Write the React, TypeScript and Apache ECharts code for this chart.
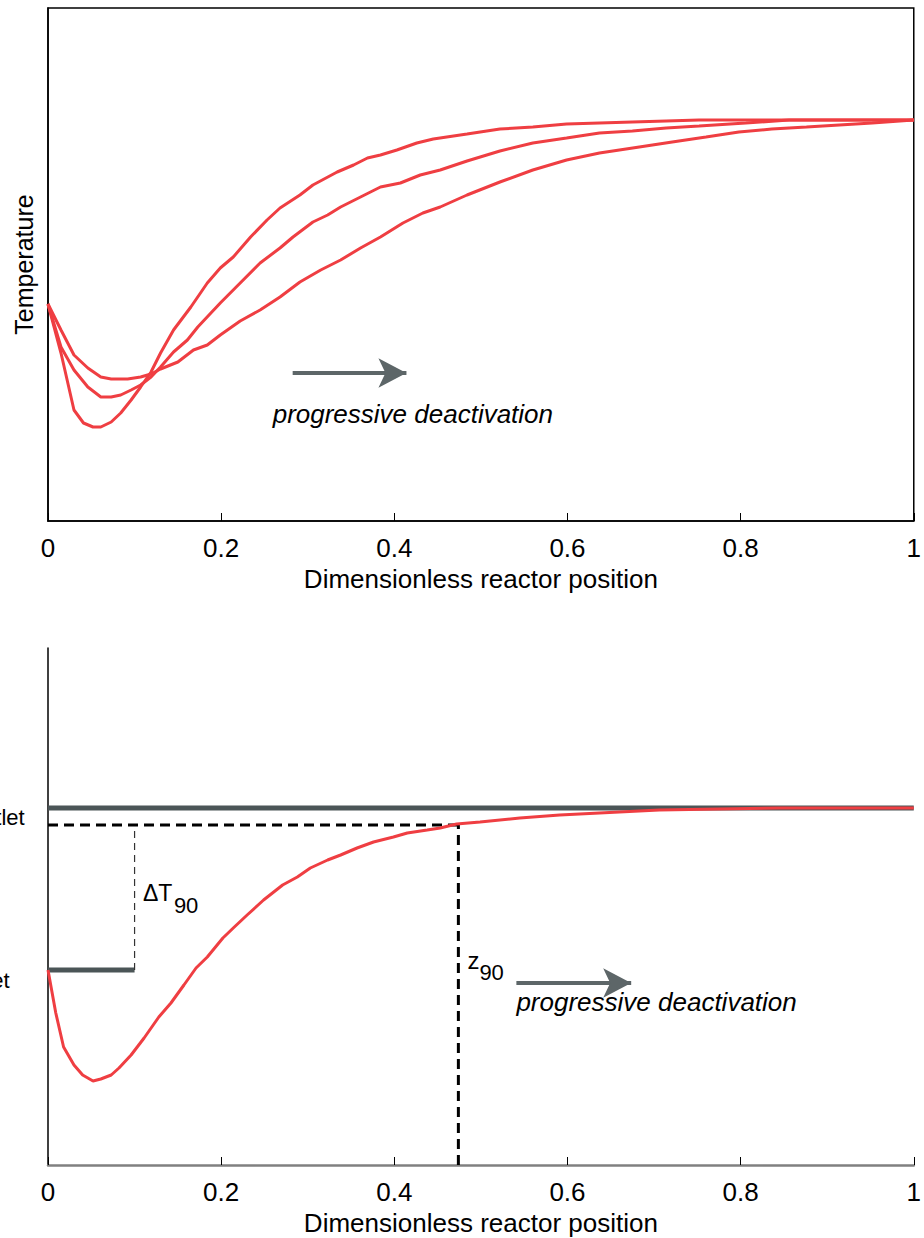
import React, { useEffect, useRef } from "react";
import * as echarts from "echarts";

// ---------- data (x: dimensionless position, T: temperature, arbitrary units) ----------
const xTickValues = [0, 0.2, 0.4, 0.6, 0.8, 1];

// top panel: three profiles, fresh -> progressively deactivated
const profileFresh: [number, number][] = [
  [0, 217], [0.015, 168], [0.03, 111], [0.041, 98], [0.052, 94], [0.061, 94], [0.073, 99],
  [0.084, 108], [0.096, 121], [0.107, 134], [0.119, 149], [0.13, 168], [0.145, 191],
  [0.165, 214], [0.184, 238], [0.199, 253], [0.214, 264], [0.234, 284], [0.253, 301],
  [0.268, 313], [0.291, 326], [0.306, 336], [0.334, 349], [0.353, 356], [0.369, 363],
  [0.384, 366], [0.403, 371], [0.426, 378], [0.445, 382], [0.484, 387], [0.522, 392],
  [0.56, 394], [0.599, 397], [0.637, 398], [0.675, 399], [0.714, 400], [0.752, 401], [1, 401],
];
const profileMid: [number, number][] = [
  [0, 217], [0.015, 174], [0.03, 151], [0.046, 134], [0.061, 124], [0.073, 124], [0.084, 126],
  [0.096, 131], [0.107, 136], [0.119, 144], [0.13, 154], [0.145, 169], [0.161, 181],
  [0.173, 194], [0.199, 218], [0.222, 238], [0.245, 258], [0.268, 273], [0.283, 284],
  [0.306, 299], [0.323, 306], [0.338, 314], [0.361, 324], [0.384, 334], [0.407, 338],
  [0.43, 346], [0.453, 351], [0.484, 360], [0.522, 370], [0.56, 378], [0.599, 383],
  [0.637, 388], [0.675, 390], [0.714, 393], [0.752, 395], [0.806, 398], [0.856, 401], [1, 401],
];
const profileAged: [number, number][] = [
  [0, 217], [0.015, 191], [0.03, 166], [0.046, 153], [0.061, 144], [0.073, 142], [0.092, 142],
  [0.107, 144], [0.119, 147], [0.13, 152], [0.15, 159], [0.168, 171], [0.184, 176],
  [0.199, 186], [0.222, 200], [0.245, 211], [0.268, 224], [0.291, 239], [0.315, 251],
  [0.338, 261], [0.361, 273], [0.384, 284], [0.41, 298], [0.433, 308], [0.453, 314],
  [0.484, 326], [0.522, 339], [0.56, 351], [0.599, 361], [0.637, 368], [0.683, 374],
  [0.721, 379], [0.76, 384], [0.798, 389], [0.836, 392], [0.876, 394], [0.914, 396],
  [0.952, 398], [1, 401],
];

// bottom panel: single profile with inlet / outlet levels
const profileSingle: [number, number][] = [
  [0, 195], [0.009, 152], [0.018, 118], [0.03, 100], [0.04, 90], [0.052, 84], [0.061, 86],
  [0.073, 90], [0.082, 97], [0.096, 110], [0.111, 127], [0.128, 148], [0.142, 162],
  [0.157, 180], [0.171, 197], [0.184, 208], [0.202, 227], [0.214, 237], [0.23, 250],
  [0.249, 265], [0.271, 280], [0.288, 288], [0.303, 297], [0.323, 305], [0.338, 310],
  [0.357, 317], [0.376, 323], [0.399, 328], [0.415, 332], [0.438, 335], [0.453, 337],
  [0.472, 341], [0.499, 343], [0.545, 347], [0.591, 350], [0.637, 352], [0.706, 355],
  [0.844, 357], [1, 357],
];
const inletT = 195;
const outletT = 357;
const t90 = 340;
const z90 = 0.474;
const inletMarkEnd = 0.1;

const topYMax = 513;
const bottomYMax = 517;

// annotation anchors (data space)
const topArrow: [number, number][] = [[0.2826, 148], [0.414, 148]];
const bottomArrow: [number, number][] = [[0.541, 182], [0.6736, 182]];
const topLabelAnchor: [number, number] = [0.2595, 107];
const bottomLabelAnchor: [number, number] = [0.541, 163];
const dTAnchor: [number, number] = [0.1096, 272];
const zAnchor: [number, number] = [0.4844, 205];

const RED = "#ef3e42";
const DARK = "#4b5557";
const ARROW = "#5d6668";
const SANS = "'Liberation Sans',Arial,Helvetica,sans-serif";

function xAxisCfg(gridIndex: number, axisColor: string, axisWidth: number) {
  return {
    type: "value" as const,
    gridIndex,
    min: 0,
    max: 1,
    interval: 0.2,
    name: "Dimensionless reactor position",
    nameLocation: "middle" as const,
    nameGap: 45,
    nameTextStyle: { fontFamily: SANS, fontSize: 26, color: "#000" },
    axisLine: { show: true, onZero: false, lineStyle: { color: axisColor, width: axisWidth } },
    axisTick: { show: true, inside: true, length: 8, lineStyle: { color: "#000", width: 1 } },
    axisLabel: {
      fontFamily: SANS,
      fontSize: 26,
      color: "#000",
      margin: 14,
      formatter: (v: number) => String(xTickValues.find((t) => Math.abs(t - v) < 1e-6) ?? v),
    },
    splitLine: { show: false },
  };
}

function redLine(data: [number, number][], xi: number, yi: number) {
  return {
    type: "line" as const,
    xAxisIndex: xi,
    yAxisIndex: yi,
    data,
    showSymbol: false,
    symbol: "none",
    lineStyle: { color: RED, width: 3 },
    z: 5,
  };
}

function plainLine(data: [number, number][], color: string, width: number, type: any, z = 3) {
  return {
    type: "line" as const,
    xAxisIndex: 1,
    yAxisIndex: 1,
    data,
    showSymbol: false,
    symbol: "none",
    lineStyle: { color, width, type },
    z,
  };
}

function arrowMark(pts: [number, number][]) {
  return {
    silent: true,
    symbol: ["none", "arrow"],
    symbolSize: [22, 28],
    label: { show: false },
    lineStyle: { color: ARROW, width: 4, type: "solid" as const },
    data: [[{ coord: pts[0] }, { coord: pts[1] }]],
  };
}

export default function App() {
  const ref = useRef<HTMLDivElement>(null);
  useEffect(() => {
    if (!ref.current) return;
    const chart = echarts.init(ref.current, null, { renderer: "svg" });
    const option: any = {
      animation: false,
      backgroundColor: "#fff",
      grid: [
        { left: 48, top: 8, width: 867, height: 513, show: true, borderColor: "#000", borderWidth: 1.5, backgroundColor: "transparent" },
        { left: 48, top: 648, width: 867, height: 517, show: false },
      ],
      xAxis: [xAxisCfg(0, "#000", 1.5), xAxisCfg(1, "#808080", 2.5)],
      yAxis: [
        {
          type: "value",
          gridIndex: 0,
          min: 0,
          max: topYMax,
          name: "Temperature",
          nameLocation: "middle",
          nameGap: 12,
          nameTextStyle: { fontFamily: SANS, fontSize: 25, color: "#000" },
          axisLine: { show: true, lineStyle: { color: "#000", width: 1.5 } },
          axisTick: { show: false },
          axisLabel: { show: false },
          splitLine: { show: false },
        },
        {
          type: "value",
          gridIndex: 1,
          min: 0,
          max: bottomYMax,
          axisLine: { show: true, lineStyle: { color: "#000", width: 1.5 } },
          axisTick: { show: false },
          axisLabel: { show: false },
          splitLine: { show: false },
        },
      ],
      series: [
        { ...redLine(profileFresh, 0, 0), markLine: arrowMark(topArrow) },
        redLine(profileMid, 0, 0),
        redLine(profileAged, 0, 0),
        plainLine([[0, outletT], [1, outletT]], DARK, 5, "solid"),
        plainLine([[0, inletT], [inletMarkEnd, inletT]], DARK, 5, "solid"),
        plainLine([[inletMarkEnd, inletT], [inletMarkEnd, t90]], "#333", 1.2, [7, 5]),
        plainLine([[0, t90], [z90, t90]], "#000", 3, [10, 6], 4),
        plainLine([[z90, 0], [z90, t90]], "#000", 3, [10, 6], 4),
        { ...redLine(profileSingle, 1, 1), markLine: arrowMark(bottomArrow) },
      ],
    };
    chart.setOption(option);

    const px = (g: number, v: [number, number]) => chart.convertToPixel({ gridIndex: g } as any, v) as number[];
    const tl = px(0, topLabelAnchor);
    const bl = px(1, bottomLabelAnchor);
    const dT = px(1, dTAnchor);
    const zz = px(1, zAnchor);
    const outP = px(1, [0, outletT - 9]);
    const inP = px(1, [0, inletT - 10]);
    const txt = (x: number, y: number, text: string, size: number, italic = false) => ({
      type: "text",
      x,
      y,
      silent: true,
      z: 10,
      style: {
        text,
        fill: "#000",
        fontFamily: SANS,
        fontSize: size,
        fontStyle: italic ? "italic" : "normal",
        align: "left",
        verticalAlign: "middle",
      },
    });
    chart.setOption({
      graphic: [
        txt(tl[0], tl[1], "progressive deactivation", 26, true),
        txt(bl[0], bl[1], "progressive deactivation", 26, true),
        txt(dT[0], dT[1], "ΔT", 23),
        txt(dT[0] + 31, dT[1] + 12, "90", 22),
        txt(zz[0], zz[1], "z", 24),
        txt(zz[0] + 12, zz[1] + 12, "90", 22),
        txt(outP[0] - 82, outP[1], "Outlet", 22),
        txt(inP[0] - 80, inP[1], "Inlet", 22),
      ],
    });
    return () => chart.dispose();
  }, []);
  return (
    <div
      ref={ref}
      style={{ position: "absolute", left: 0, top: 0, width: 924, height: 1238, background: "#fff" }}
    />
  );
}
